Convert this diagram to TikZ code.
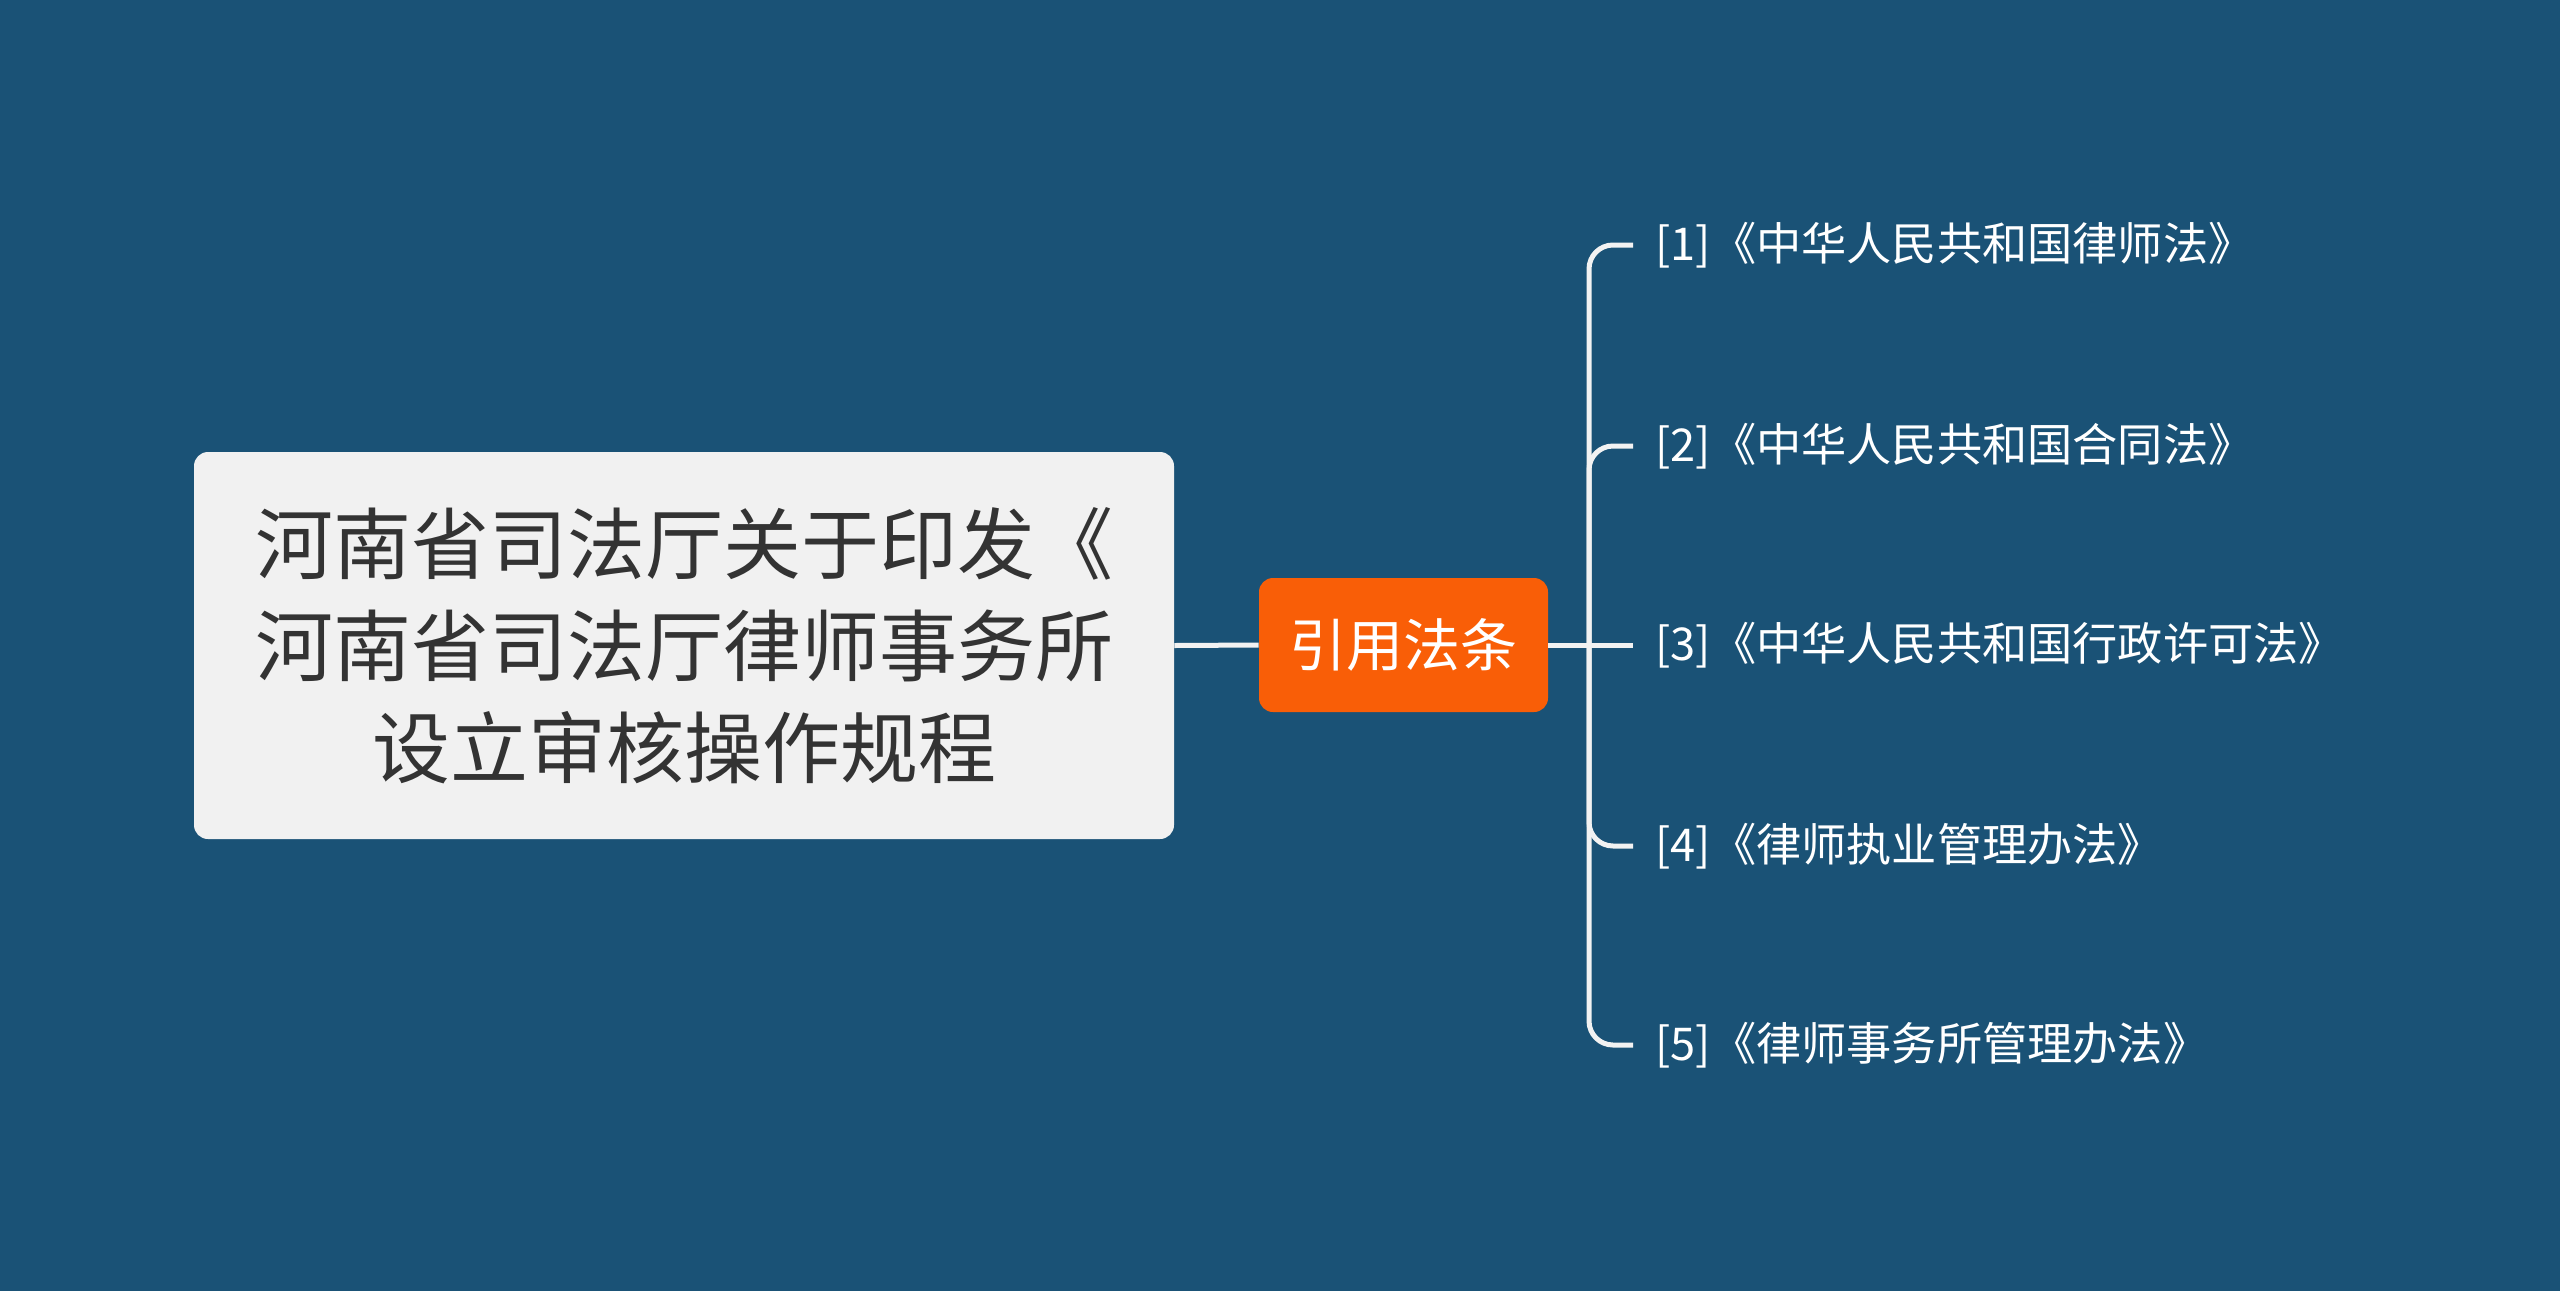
\documentclass[tikz,border=0pt]{standalone}
\usepackage{fontspec}
\setmainfont{Noto Sans CJK SC}
\definecolor{bg}{HTML}{1A5276}
\definecolor{rootfill}{HTML}{F1F1F1}
\definecolor{roottext}{HTML}{333333}
\definecolor{orangefill}{HTML}{F95E07}
\definecolor{linecol}{HTML}{F2F2F2}
\tikzset{
  rootbox/.style={fill=rootfill, rounded corners=7pt, minimum width=490pt, minimum height=193.5pt,
    align=center, text=roottext, font=\fontsize{39pt}{51pt}\selectfont, inner sep=0pt},
  midbox/.style={fill=orangefill, rounded corners=7pt, minimum width=144.5pt, minimum height=67pt,
    text=white, font=\fontsize{28.5pt}{34pt}\selectfont, inner sep=0pt},
  leaf/.style={anchor=west, text=white, font=\fontsize{22.6pt}{26pt}\selectfont, inner xsep=11pt, inner ysep=4pt},
  conn/.style={draw=linecol, line width=2.5pt, rounded corners=12pt},
}
\begin{document}
\begin{tikzpicture}[x=0.5pt,y=-0.5pt]
\fill[bg] (0,0) rectangle (2560,1291);
\useasboundingbox (0,0) rectangle (2560,1291);
\node[rootbox] (root) at (684,645.5) {河南省司法厅关于印发《\\河南省司法厅律师事务所\\设立审核操作规程};
\node[midbox] (mid) at (1403.5,645) {引用法条};
\coordinate (j) at (1589,645);
\node[leaf] (l1) at (1633,245) {[1]《中华人民共和国律师法》};
\node[leaf] (l2) at (1633,446) {[2]《中华人民共和国合同法》};
\node[leaf] (l3) at (1633,645) {[3]《中华人民共和国行政许可法》};
\node[leaf] (l4) at (1633,846) {[4]《律师执业管理办法》};
\node[leaf] (l5) at (1633,1045) {[5]《律师事务所管理办法》};
\draw[conn] (root.east) -- (mid.west);
\draw[conn] (mid.east) -- (j);
\draw[conn] (j) |- (l1.west);
\draw[conn] (j) |- (l2.west);
\draw[conn] (j) -- (l3.west);
\draw[conn] (j) |- (l4.west);
\draw[conn] (j) |- (l5.west);
\end{tikzpicture}
\end{document}
